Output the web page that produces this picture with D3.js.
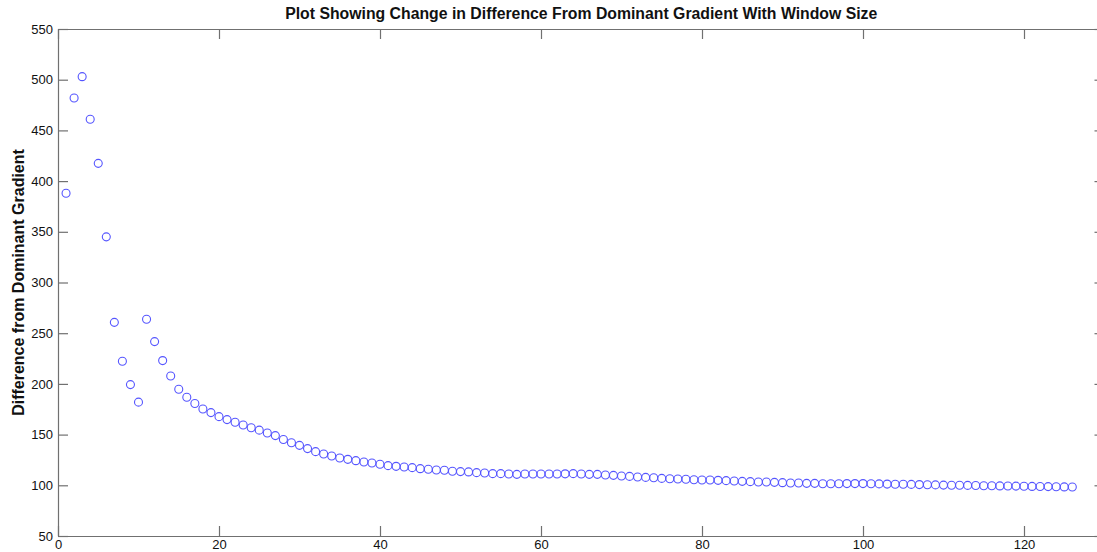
<!DOCTYPE html>
<html><head><meta charset="utf-8">
<script src="https://cdn.jsdelivr.net/npm/d3@7"></script>
<style>
html,body{margin:0;padding:0;background:#fff;overflow:hidden}
text{font-family:"Liberation Sans",Arial,Helvetica,sans-serif}
</style></head><body>
<svg id="c" width="1097" height="552"></svg>
<script>
const windowSizes = d3.range(1, 127);
const differences = [
 388, 482, 503, 461, 417.5, 345, 260.7, 222.3, 199.3, 182,
 263.7, 241.7, 223, 207.8, 194.7, 186.8, 180.6, 175.2, 171.7, 167.7,
 164.8, 162.2, 159.5, 156.7, 154.4, 151.6, 149, 145.2, 141.9, 139.4,
 136.2, 133.2, 130.9, 128.9, 126.9, 125.6, 124.3, 123, 122, 120.7,
 119.4, 118.7, 118, 117.4, 116.4, 115.8, 115.1, 114.8, 113.8, 113.5,
 113.2, 112.5, 112.2, 111.5, 111.5, 111.2, 110.8, 111.2, 111.2, 111.2,
 111.2, 111.1, 111.3, 111.5, 111.2, 110.8, 110.8, 110.2, 109.8, 109.2,
 108.8, 108.2, 107.8, 107.5, 106.8, 106.5, 106.2, 105.9, 105.5, 105.2,
 105.2, 104.9, 104.6, 104.2, 103.9, 103.6, 103.2, 103.2, 102.9, 102.6,
 102.3, 102.3, 101.9, 101.9, 101.6, 101.6, 101.6, 101.7, 101.7, 101.7,
 101.5, 101.4, 101.2, 101.1, 101, 100.9, 100.7, 100.6, 100.4, 100.2,
 100.1, 100, 99.9, 99.8, 99.6, 99.5, 99.4, 99.3, 99.2, 99,
 98.9, 98.8, 98.7, 98.6, 98.4, 98.3
];
const xTicks = [0, 20, 40, 60, 80, 100, 120];
const yTicks = [50, 100, 150, 200, 250, 300, 350, 400, 450, 500, 550];
const titleText = "Plot Showing Change in Difference From Dominant Gradient With Window Size";
const yLabelText = "Difference from Dominant Gradient";

const svg = d3.select("#c");
const L = 58, T = 29, R = 1104.5, B = 536;
const x = d3.scaleLinear().domain([0, 130]).range([L, R]);
const y = d3.scaleLinear().domain([50, 550]).range([B, T]);
const axisColor = "#707070";
const tl = 10;

function styleAxis(g, showLabels) {
  g.select(".domain").attr("stroke", axisColor).attr("stroke-width", 1.2);
  g.selectAll(".tick line").attr("stroke", axisColor).attr("stroke-width", 1.2);
  g.selectAll(".tick text").attr("fill", "#111").style("font-size", "13px")
    .style("font-family", '"Liberation Sans", Arial, sans-serif');
  if (!showLabels) g.selectAll(".tick text").remove();
}

svg.append("g").attr("transform", `translate(0,${B})`)
  .call(d3.axisBottom(x).tickValues(xTicks).tickFormat(d3.format("d")).tickSizeInner(-tl).tickSizeOuter(0).tickPadding(4))
  .call(g => styleAxis(g, true));
svg.append("g").attr("transform", `translate(0,${T})`)
  .call(d3.axisTop(x).tickValues(xTicks).tickSizeInner(-tl).tickSizeOuter(0))
  .call(g => styleAxis(g, false));
svg.append("g").attr("transform", `translate(${L},0)`)
  .call(d3.axisLeft(y).tickValues(yTicks).tickFormat(d3.format("d")).tickSizeInner(-tl).tickSizeOuter(0).tickPadding(5))
  .call(g => styleAxis(g, true));
svg.append("g").attr("transform", `translate(${R},0)`)
  .call(d3.axisRight(y).tickValues(yTicks).tickSizeInner(-tl).tickSizeOuter(0))
  .call(g => styleAxis(g, false));

svg.append("g").selectAll("circle")
  .data(windowSizes.map((w, i) => [w, differences[i]]))
  .join("circle")
  .attr("cx", d => x(d[0]))
  .attr("cy", d => y(d[1]))
  .attr("r", 4)
  .attr("fill", "none")
  .attr("stroke", "#5555ff")
  .attr("stroke-width", 1.1);

svg.append("text").attr("x", (L + R) / 2).attr("y", 19)
  .attr("text-anchor", "middle").attr("font-weight", "bold")
  .style("font-size", "15.8px").attr("fill", "#111").text(titleText);

svg.append("text")
  .attr("transform", `translate(24,${(T + B) / 2}) rotate(-90)`)
  .attr("text-anchor", "middle").attr("font-weight", "bold")
  .style("font-size", "16px").attr("fill", "#111").text(yLabelText);
</script>
</body></html>
